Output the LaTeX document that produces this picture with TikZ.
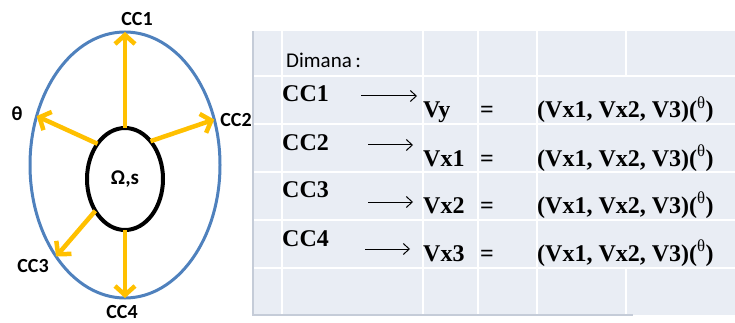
\documentclass[tikz,border=0pt]{standalone}
\usepackage{fontspec}
\setmainfont{Liberation Serif}
\newfontfamily\labfont{Carlito}
\usepackage{tikz}
\usetikzlibrary{arrows.meta, shapes.geometric}

\definecolor{ringblue}{HTML}{4F81BD}
\definecolor{flowyellow}{HTML}{FFC000}
\definecolor{tabbg}{HTML}{E9EDF4}
\definecolor{tabshade}{HTML}{C5CCD8}

\tikzset{
  flow/.style={flowyellow, line width=4.5pt,
    -{Straight Barb[length=9pt,width=20pt,line width=4.5pt]}},
  lab/.style={font=\labfont\bfseries\fontsize{20}{20}\selectfont},
  tab/.style={anchor=base west, inner sep=0pt,
    font=\bfseries\fontsize{24}{24}\selectfont},
  tarr/.style={black, line width=1pt,
    -{Straight Barb[length=6pt,width=11pt,line width=1pt]}}
}

\begin{document}
\begin{tikzpicture}[x=1pt, y=-1pt]
  \useasboundingbox (0,0) rectangle (735,323);
  % ring with the flows
  \node[ellipse, draw=ringblue, line width=3pt, minimum width=190pt,
    minimum height=266pt, inner sep=0pt, outer sep=0pt] (outer) at (125,165) {};
  \node[ellipse, draw=black, line width=4pt, minimum width=76pt,
    minimum height=102pt, inner sep=0pt, outer sep=0pt,
    font=\labfont\bfseries\fontsize{21}{21}\selectfont] (inner) at (125,179) {Ω,s};
  \draw[flow](inner.90)--(outer.90);
  \draw[flow](inner.56)--(outer.27);
  \draw[flow](inner.128)--(outer.151);
  \draw[flow](inner.227)--(outer.233);
  \draw[flow](inner.270)--(outer.270);
  \node[lab] (lcc1) at (137,19) {CC1};
  \node[lab] (lcc2) at (236,120) {CC2};
  \node[lab] (ltheta) at (17,114) {θ};
  \node[lab] (lcc3) at (33,266) {CC3};
  \node[lab] (lcc4) at (122,312) {CC4};

  % table
  \fill[tabbg](253,31) rectangle (735,315);
  \draw[tabshade, line width=2pt](253,31)--(253,315)--(633,315);
  \foreach \y in {76,124,172,220,268}
    \draw[white, line width=1.5pt](254,\y)--(735,\y);
  \foreach \x in {282,423,478,537}
    \draw[white, line width=1.5pt](\x,31)--(\x,314);
  \draw[white, line width=1.5pt](626,31)--(626,76);
  \draw[white, line width=1.5pt](626,268)--(626,314);

  \node[anchor=base west, inner sep=0pt,
    font=\labfont\fontsize{21}{21}\selectfont] (dimana) at (286,68) {Dimana\,:};

  \node[tab] (cc1) at (282,102) {CC1};
  \node[tab] (cc2) at (282,150) {CC2};
  \node[tab] (cc3) at (282,197) {CC3};
  \node[tab] (cc4) at (282,246) {CC4};

  \node[tab] (v1) at (423,118) {Vy};
  \node[tab] (v2) at (423,166) {Vx1};
  \node[tab] (v3) at (423,213) {Vx2};
  \node[tab] (v4) at (423,261) {Vx3};

  \node[tab] (eq1) at (480,118) {=};
  \node[tab] (eq2) at (480,166) {=};
  \node[tab] (eq3) at (480,213) {=};
  \node[tab] (eq4) at (480,261) {=};

  \node[tab] (f1) at (537,118) {(Vx1, Vx2, V3)(\textsuperscript{\mdseries θ})};
  \node[tab] (f2) at (537,166) {(Vx1, Vx2, V3)(\textsuperscript{\mdseries θ})};
  \node[tab] (f3) at (537,213) {(Vx1, Vx2, V3)(\textsuperscript{\mdseries θ})};
  \node[tab] (f4) at (537,261) {(Vx1, Vx2, V3)(\textsuperscript{\mdseries θ})};

  \coordinate (a1s) at (361,96);  \coordinate (a1e) at (417,96);
  \coordinate (a2s) at (368,145); \coordinate (a2e) at (413,145);
  \coordinate (a3s) at (368,202); \coordinate (a3e) at (413,202);
  \coordinate (a4s) at (365,249); \coordinate (a4e) at (410,249);
  \draw[tarr](a1s)--(a1e);
  \draw[tarr](a2s)--(a2e);
  \draw[tarr](a3s)--(a3e);
  \draw[tarr](a4s)--(a4e);
\end{tikzpicture}
\end{document}
